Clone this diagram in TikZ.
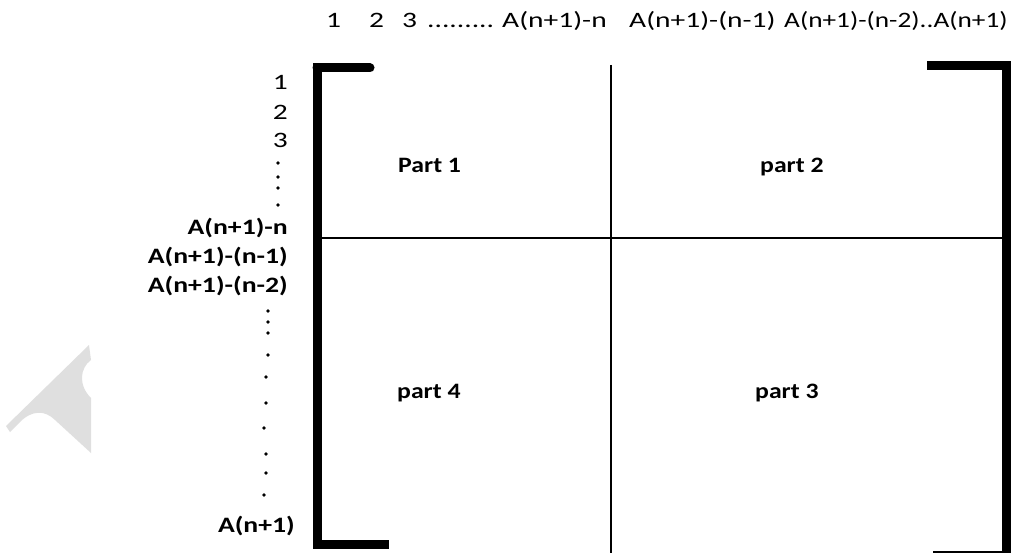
\documentclass[tikz,border=0pt]{standalone}
\usepackage{fontspec}
\setmainfont{Carlito}
\newfontfamily\topfont[FakeStretch=1.34]{Carlito}
\newfontfamily\lastfont[FakeStretch=1.24]{Carlito}
\newfontfamily\rowfont[FakeStretch=1.26]{Carlito}
\newfontfamily\partfont[FakeStretch=1.17]{Carlito}
\begin{document}
\begin{tikzpicture}[x=1pt,y=-1pt,
  lbl/.style={inner sep=0pt,anchor=base west,font=\topfont\fontsize{22}{24}\selectfont},
  rnum/.style={inner sep=0pt,anchor=base east,font=\topfont\fontsize{22}{24}\selectfont},
  rlbl/.style={inner sep=0pt,anchor=base east,font=\rowfont\fontsize{22}{24}\selectfont\bfseries},
  part/.style={inner sep=0pt,anchor=base west,font=\partfont\fontsize{22}{24}\selectfont\bfseries},
  thick bracket/.style={line width=9pt},
  thin line/.style={line width=1.3pt},
  dot/.style={circle,fill=black,inner sep=0pt,minimum size=3.8pt}]
\useasboundingbox (0,0) rectangle (1012,553);
% watermark fragment
\fill[gray!25] (89,345) -- (91,360) .. controls (80,368) and (78,385) .. (91,398) -- (91,453)
  -- (55,420) .. controls (45,410) and (32,410) .. (20,422) -- (10,432) -- (6,426) -- cycle;
% coordinates
\coordinate (tl) at (317,67);
\coordinate (bl) at (317,545);
\coordinate (tlend) at (370,68);
\coordinate (blend) at (389,544);
\coordinate (tr) at (1006,66);
\coordinate (trstart) at (927,66);
\coordinate (br) at (1006,553);
\coordinate (brline) at (933,552);
\coordinate (vt) at (611,65);
\coordinate (vb) at (611,553);
\coordinate (hl) at (320,238);
\coordinate (hr) at (1003,238);
% brackets
\draw[thick bracket,line cap=round] (tlend) -- (tl |- tlend);
\draw[thick bracket] (tl |- tlend) ++(0,-4.5) -- (bl |- blend) -- (blend);
\draw[thick bracket] (trstart) -- (tr) ++(0,-4.5) -- (br);
\draw[thin line] (brline) -- (1002,552);
% dividers
\draw[thin line] (vt) -- (vb);
\draw[thin line] (hl) -- (hr);
% parts
\node[part] (p1) at (398,173) {Part 1};
\node[part] (p2) at (760,173) {part 2};
\node[part] (p4) at (397,398) {part 4};
\node[part] (p3) at (755,398) {part 3};
% top labels
\node[lbl] (c1) at (326,28) {1};
\node[lbl] (c2) at (369,28) {2};
\node[lbl] (c3) at (402,28) {3};
\node[lbl] (cd) at (427,28) {.........};
\node[lbl] (ca) at (502,28) {A(n+1)-n};
\node[lbl] (cb) at (629,28) {A(n+1)-(n-1)};
\node[lbl,font=\lastfont\fontsize{22}{24}\selectfont] (cc) at (784,28) {A(n+1)-(n-2)..A(n+1)};
% left labels
\node[rnum] (r1) at (288,90) {1};
\node[rnum] (r2) at (288,120) {2};
\node[rnum] (r3) at (288,148) {3};
\foreach \y [count=\i] in {163,177,188,205} \node[dot] (d\i) at (278,\y) {};
\node[rlbl] (ra) at (288,235) {A(n+1)-n};
\node[rlbl] (rb) at (288,264) {A(n+1)-(n-1)};
\node[rlbl] (rc) at (288,293) {A(n+1)-(n-2)};
\foreach \x/\y [count=\i] in {268/311,268/322,268/333,268/355,266/377,266/403,264/428,266/454,266/473,264/495} \node[dot] (e\i) at (\x,\y) {};
\node[rlbl] (rn) at (295,532) {A(n+1)};
\end{tikzpicture}
\end{document}
